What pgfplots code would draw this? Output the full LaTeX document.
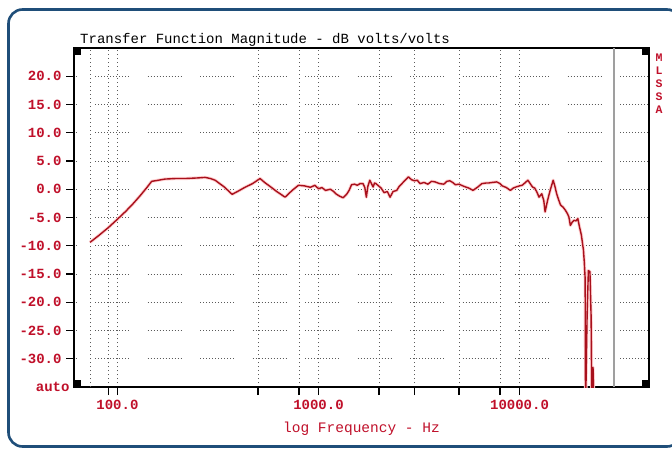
\documentclass[border=0pt]{standalone}
\usepackage{fontspec}
\setmainfont{Liberation Mono}
\usepackage{pgfplots}
\usepackage{pgfplotstable}
\pgfplotsset{compat=1.18}
\definecolor{frameblue}{HTML}{1F4E79}
\definecolor{curvered}{HTML}{A8101C}
\definecolor{labelred}{HTML}{C0102A}
\definecolor{gridgray}{HTML}{5A5A5A}
\pgfplotstableread{
f db
73 -9.4
80 -8.3
90 -6.8
100 -5.3
110 -3.9
120 -2.5
130 -1.1
140 0.3
148 1.4
160 1.6
172 1.8
195 1.9
217 1.9
250 2.0
273 2.1
290 1.9
306 1.6
340 0.4
372 -0.9
400 -0.3
431 0.35
470 1.0
512 1.9
540 1.2
574 0.5
620 -0.4
682 -1.4
740 -0.2
795 0.7
850 0.6
912 0.35
960 0.7
1000 0.1
1040 0.3
1084 -0.2
1146 0.0
1190 -0.4
1220 -0.8
1270 -1.2
1325 -1.5
1380 -0.9
1420 -0.2
1460 0.8
1510 0.9
1560 0.7
1610 1.0
1665 1.0
1700 0.3
1730 -1.4
1760 0.5
1800 1.6
1840 0.9
1870 0.4
1900 1.1
1930 1.0
1990 0.6
2050 0.2
2120 -0.6
2200 -0.4
2270 -1.4
2350 -0.4
2450 -0.2
2520 0.5
2600 1.0
2700 1.6
2800 2.2
2900 1.7
3000 1.5
3100 1.6
3200 1.0
3350 1.2
3500 0.9
3650 1.4
3800 1.3
4000 1.0
4200 0.9
4350 1.4
4500 1.5
4650 1.2
4800 0.8
5000 0.9
5300 0.5
5600 0.2
5870 -0.2
6200 0.4
6500 1.0
6800 1.1
7000 1.1
7300 1.2
7700 1.3
8000 1.0
8200 0.6
8600 0.3
9000 -0.2
9300 0.2
9600 0.4
10000 0.6
10300 0.7
10700 1.2
11000 1.6
11300 1.0
11600 0.4
11900 0.2
12200 -0.5
12500 -1.4
12900 -0.8
13200 -2.0
13400 -4.0
13800 -1.9
14200 -0.2
14700 1.6
15000 0.5
15300 -0.8
15700 -2.0
16000 -2.8
16500 -3.2
16900 -3.7
17300 -4.3
17600 -4.9
17900 -6.4
18300 -5.8
18700 -5.5
19100 -5.6
19500 -5.2
19800 -6.4
20300 -8.1
20800 -10.8
21000 -13.0
21200 -15.8
21300 -40
21500 -30
21700 -21.7
22000 -14.4
22400 -14.6
22700 -22.6
22900 -40
23200 -31.5
23500 -40
}\magdata
\begin{document}
\begin{tikzpicture}
\fill[white] (0pt,0pt) rectangle (672pt,448pt);
\useasboundingbox (0pt,0pt) rectangle (672pt,448pt);
\draw[frameblue, line width=2.6pt, rounded corners=14pt] (8.5pt,1.5pt) rectangle (681pt,438.5pt);
\begin{axis}[
  at={(74pt,61pt)}, anchor=south west,
  width=575pt, height=339pt, scale only axis,
  xmode=log, xmin=60.8, xmax=44060,
  ymin=-35, ymax=25,
  axis line style={black, line width=1.6pt},
  xtick={90,100,500,800,1000,2000,3000,5000,8000,10000},
  xticklabels={,100.0,,,1000.0,,,,,10000.0},
  xminorticks=false, yminorticks=false,
  ytick={-30,-25,...,20},
  yticklabels={-30.0,-25.0,-20.0,-15.0,-10.0,-5.0,0.0,5.0,10.0,15.0,20.0},
  extra y ticks={-35}, extra y tick labels={auto},
  extra y tick style={major tick length=0pt, grid=none},
  extra x ticks={73}, extra x tick labels={},
  extra x tick style={major tick length=0pt, grid=major,
     major grid style={gridgray, line width=0.8pt, dash pattern=on 1pt off 1.5pt}},
  xtick pos=bottom, ytick pos=left,
  tick align=outside, major tick length=8pt,
  tick style={black, line width=1.2pt},
  ticklabel style={text=labelred, font=\bfseries\fontsize{14}{14}\selectfont},
  /pgf/number format/assume math mode=true,
  xmajorgrids, ymajorgrids,
  x grid style={gridgray, line width=0.8pt, dash pattern=on 1pt off 3pt},
  y grid style={gridgray, line width=0.8pt, dash phase=31.5pt,
     dash pattern=on 1pt off 2pt on 1pt off 2pt on 1pt off 2pt on 1pt off 2pt on 1pt off 2pt on 1pt off 2pt on 1pt off 2pt on 1pt off 2pt on 1pt off 2pt on 1pt off 2pt on 1pt off 2pt on 1pt off 18.5pt},
  xticklabel style={yshift=-2pt},
  yticklabel style={xshift=-1pt},
]
\draw[gray!75, line width=1.4pt] (axis cs:29500,-35) -- (axis cs:29500,25);
\addplot[red!18, line width=3.2pt, line join=round] table[x=f, y=db] {\magdata};
\addplot[curvered, line width=1.4pt, line join=round] table[x=f, y=db] {\magdata};
\fill[black] (rel axis cs:0,1) rectangle ++(7pt,-7pt);
\fill[black] (rel axis cs:0,0) rectangle ++(7pt,7pt);
\fill[black] (rel axis cs:1,1) rectangle ++(-7pt,-7pt);
\fill[black] (rel axis cs:1,0) rectangle ++(-7pt,7pt);
\end{axis}
\node[anchor=base west, font=\fontsize{14}{14}\selectfont, inner sep=0pt] at (80pt,404pt) {Transfer Function Magnitude - dB volts/volts};
\node[anchor=center, text=labelred, font=\fontsize{14.5}{14.5}\selectfont, inner sep=0pt] at (361.5pt,19pt) {log Frequency - Hz};
\node[anchor=north, text=labelred, font=\bfseries\fontsize{11.5}{13}\selectfont, align=center, inner sep=0pt] at (659pt,394pt) {M\\L\\S\\S\\A};
\end{tikzpicture}
\end{document}
